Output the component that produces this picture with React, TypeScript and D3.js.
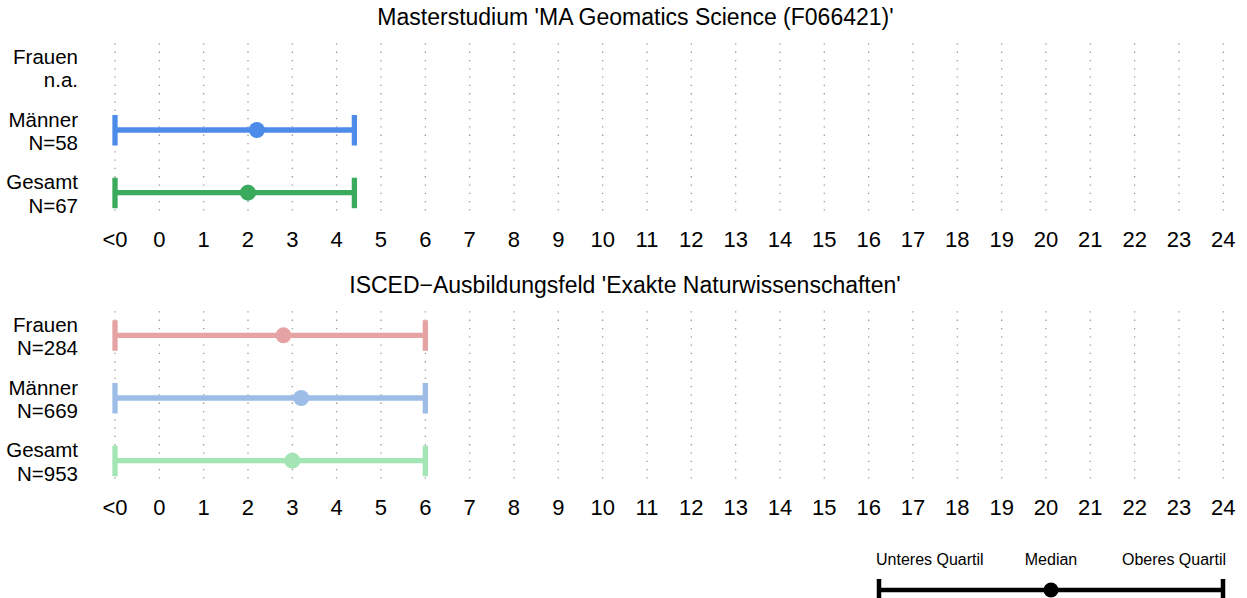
import React from 'react';
import * as d3 from 'd3';

// data
const categories = ['Frauen', 'Männer', 'Gesamt'];
const tickValues = d3.range(-1, 25);
const tickLabels = tickValues.map((v) => (v < 0 ? '<0' : String(v)));

const panel1Title = "Masterstudium 'MA Geomatics Science (F066421)'";
const panel1Lower = [null, -1, -1];
const panel1Median = [null, 2.2, 2.0];
const panel1Upper = [null, 4.4, 4.4];
const panel1N = [null, 58, 67];
const panel1Colors = ['#E5A3A3', '#4C8BE8', '#3AAA5C'];

const panel2Title = "ISCED\u2212Ausbildungsfeld 'Exakte Naturwissenschaften'";
const panel2Lower = [-1, -1, -1];
const panel2Median = [2.8, 3.2, 3.0];
const panel2Upper = [6, 6, 6];
const panel2N = [284, 669, 953];
const panel2Colors = ['#E5A3A3', '#9DBDE6', '#A3E5B4'];

const legendLabels = ['Unteres Quartil', 'Median', 'Oberes Quartil'];

const width = 1247;
const height = 598;
const font = "'Liberation Sans', Arial, Helvetica, sans-serif";

const x = d3.scaleLinear().domain([-1, 24]).range([115, 1223.3]);

type PanelProps = {
  top: number;
  title: string;
  titleX: number;
  lower: (number | null)[];
  median: (number | null)[];
  upper: (number | null)[];
  n: (number | null)[];
  colors: string[];
};

const Panel = ({ top, title, titleX, lower, median, upper, n, colors }: PanelProps) => {
  const y = d3.scalePoint().domain(categories).range([top + 67.3, top + 192.7]);
  const gridTop = top + 43.3;
  const gridBottom = top + 216.7;
  return (
    <g>
      <text x={titleX} y={top + 25} textAnchor="middle" fontSize={23} fontFamily={font} fill="#000">
        {title}
      </text>
      {tickValues.map((v) => (
        <line
          key={'g' + v}
          x1={x(v)}
          x2={x(v)}
          y1={gridTop}
          y2={gridBottom}
          stroke="#9a9a9a"
          strokeWidth={1.3}
          strokeDasharray="1.3 7"
        />
      ))}
      {tickValues.map((v, i) => (
        <text
          key={'t' + v}
          x={x(v)}
          y={top + 247}
          textAnchor="middle"
          fontSize={22}
          fontFamily={font}
          fill="#000"
        >
          {tickLabels[i]}
        </text>
      ))}
      {categories.map((c, i) => {
        const cy = y(c) as number;
        const lo = lower[i];
        const md = median[i];
        const up = upper[i];
        return (
          <g key={c}>
            <text x={78} y={cy - 3.5} textAnchor="end" fontSize={20.5} fontFamily={font} fill="#000">
              {c}
            </text>
            <text x={78} y={cy + 20} textAnchor="end" fontSize={20.5} fontFamily={font} fill="#000">
              {n[i] == null ? 'n.a.' : `N=${n[i]}`}
            </text>
            {lo != null && up != null && md != null && (
              <g>
                <line x1={x(lo)} x2={x(up)} y1={cy} y2={cy} stroke={colors[i]} strokeWidth={5.3} />
                <line x1={x(lo)} x2={x(lo)} y1={cy - 15} y2={cy + 15.5} stroke={colors[i]} strokeWidth={5.3} />
                <line x1={x(up)} x2={x(up)} y1={cy - 15} y2={cy + 15.5} stroke={colors[i]} strokeWidth={5.3} />
                <circle cx={x(md)} cy={cy} r={8} fill={colors[i]} />
              </g>
            )}
          </g>
        );
      })}
    </g>
  );
};

const Legend = () => {
  const lx = d3.scaleLinear().domain([0, 1]).range([879, 1223]);
  const ly = 590;
  return (
    <g>
      <text x={876} y={565} textAnchor="start" fontSize={16} fontFamily={font}>{legendLabels[0]}</text>
      <text x={1051} y={565} textAnchor="middle" fontSize={16} fontFamily={font}>{legendLabels[1]}</text>
      <text x={1226} y={565} textAnchor="end" fontSize={16} fontFamily={font}>{legendLabels[2]}</text>
      <line x1={lx(0)} x2={lx(1)} y1={ly} y2={ly} stroke="#000" strokeWidth={4.5} />
      <line x1={lx(0)} x2={lx(0)} y1={ly - 11} y2={ly + 12} stroke="#000" strokeWidth={4.5} />
      <line x1={lx(1)} x2={lx(1)} y1={ly - 11} y2={ly + 12} stroke="#000" strokeWidth={4.5} />
      <circle cx={lx(0.5)} cy={ly} r={7.5} fill="#000" />
    </g>
  );
};

const App = () => {
  return (
    <svg
      width={width}
      height={height}
      style={{ position: 'absolute', left: 0, top: 0, background: '#fff' }}
    >
      <rect width={width} height={height} fill="#fff" />
      <Panel
        top={0}
        title={panel1Title}
        titleX={635.5}
        lower={panel1Lower}
        median={panel1Median}
        upper={panel1Upper}
        n={panel1N}
        colors={panel1Colors}
      />
      <Panel
        top={268}
        title={panel2Title}
        titleX={625}
        lower={panel2Lower}
        median={panel2Median}
        upper={panel2Upper}
        n={panel2N}
        colors={panel2Colors}
      />
      <Legend />
    </svg>
  );
};

export default App;
